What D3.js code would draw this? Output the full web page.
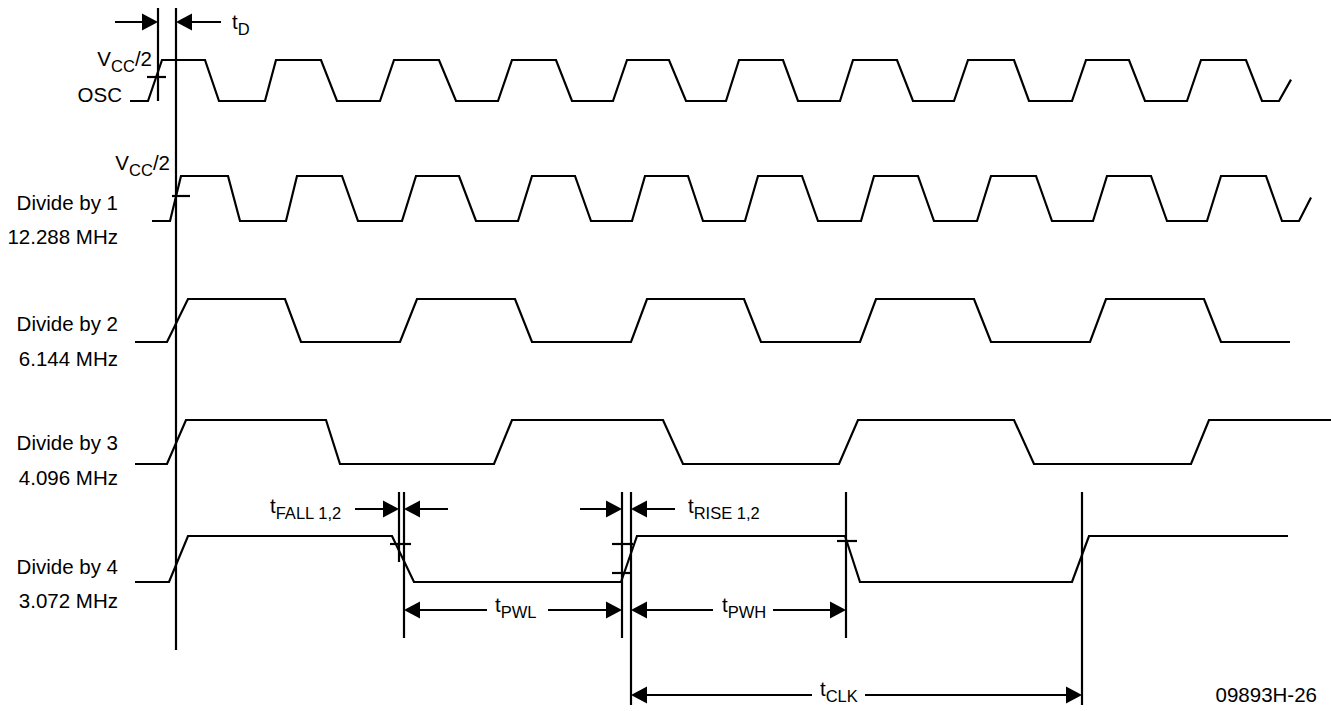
<!DOCTYPE html>
<html>
<head>
<meta charset="utf-8">
<script src="https://cdn.jsdelivr.net/npm/d3@7"></script>
<style>
  html, body { margin: 0; padding: 0; background: #fff; }
  svg { display: block; }
  text { font-family: "Liberation Sans", Arial, Helvetica, sans-serif; fill: #000; }
</style>
</head>
<body>
<script>
// ---------------- DATA (time units) ----------------
const signalNames = ["OSC", "Divide by 1", "Divide by 2", "Divide by 3", "Divide by 4"];
const signalFreqs = ["", "12.288 MHz", "6.144 MHz", "4.096 MHz", "3.072 MHz"];

// each edge = [start, end]; edges alternate rise / fall, starting from low
const oscEdges = [[148,162],[205,219],[265,276],[321,337],[380,394],[439,456],[498,512],[556,572],
  [613,627],[669,686],[726,739],[783,798],[840,853],[897,913],[954,968],[1014,1029],[1072,1086],
  [1129,1145],[1187,1201],[1246,1262],[1279,1302]];
const div1Edges = [[170,181],[228,240],[286,297],[342,358],[402,416],[459,476],[518,532],[575,591],
  [632,645],[688,703],[745,758],[802,818],[861,874],[918,934],[977,991],[1036,1052],[1093,1107],
  [1151,1167],[1207,1221],[1266,1282],[1299,1322]];
const div2Edges = [[167,188],[285,301],[400,417],[515,532],[631,647],[744,761],[860,876],[974,991],
  [1090,1106],[1204,1221]];
const div3Edges = [[167,186],[326,340],[494,512],[663,683],[839,858],[1014,1034],[1191,1209]];
const div4Edges = [[169,188],[392,414],[621,637],[845,860],[1072,1089]];

const signalStart = [130, 152, 135, 135, 135];
const signalEnd   = [1291, 1311, 1290, 1331, 1288];
const signalEdges = [oscEdges, div1Edges, div2Edges, div3Edges, div4Edges];

// timing reference markers (times)
const markerTD    = [158, 176];
const markerFall  = [399, 404];
const markerRise  = [622, 631];
const markerPWH   = 846;
const markerCLK   = 1082;

// ---------------- LAYOUT ----------------
const W = 1331, H = 711;
const svg = d3.select("body").append("svg").attr("width", W).attr("height", H);

const x = d3.scaleLinear().domain([0, 1331]).range([0, 1331]);
// per-row [lowY, highY]
const rowLevels = [[101, 60], [221, 176], [342, 299], [464, 420], [582, 536]];
const yScales = rowLevels.map(r => d3.scaleLinear().domain([0, 1]).range(r));

const SW = 2.2;

function wavePoints(start, end, edges) {
  const pts = [[start, 0]];
  let lvl = 0;
  for (const [a, b] of edges) {
    if (a >= end) break;
    pts.push([a, lvl]);
    const nl = 1 - lvl;
    if (b > end) {
      const f = (end - a) / (b - a);
      pts.push([end, lvl + (nl - lvl) * f]);
      return pts;
    }
    pts.push([b, nl]);
    lvl = nl;
  }
  pts.push([end, lvl]);
  return pts;
}

signalEdges.forEach((edges, i) => {
  const y = yScales[i];
  const line = d3.line().x(d => x(d[0])).y(d => y(d[1]));
  svg.append("path")
    .attr("d", line(wavePoints(signalStart[i], signalEnd[i], edges)))
    .attr("fill", "none").attr("stroke", "#000")
    .attr("stroke-width", SW).attr("stroke-linejoin", "miter");
});

// ---------- labels ----------
const FS = 20.5, SUB = 16.5;
const labelX = 118;
const nameBase = [101.5, 210, 330.5, 450, 573.5];
const freqBase = [null, 244, 366, 485, 607.5];
signalNames.forEach((n, i) => {
  svg.append("text").attr("x", i === 0 ? 122 : labelX).attr("y", nameBase[i])
    .attr("text-anchor", "end").attr("font-size", FS).text(n);
  if (signalFreqs[i]) {
    svg.append("text").attr("x", labelX).attr("y", freqBase[i])
      .attr("text-anchor", "end").attr("font-size", FS).text(signalFreqs[i]);
  }
});

function vccLabel(xr, yb) {
  const t = svg.append("text").attr("x", xr).attr("y", yb).attr("text-anchor", "end").attr("font-size", FS);
  t.append("tspan").text("V");
  t.append("tspan").attr("font-size", SUB).attr("dy", 6).text("CC");
  t.append("tspan").attr("dy", -6).text("/2");
}
vccLabel(152, 66);
vccLabel(170, 170);

function subLabel(xl, yb, main, sub, anchor) {
  const t = svg.append("text").attr("x", xl).attr("y", yb).attr("font-size", FS)
    .attr("text-anchor", anchor || "start");
  t.append("tspan").text(main);
  t.append("tspan").attr("font-size", SUB).attr("dy", 5.5).text(sub);
  return t;
}

// ---------- annotation helpers ----------
function vline(t, y1, y2) {
  svg.append("line").attr("x1", x(t)).attr("x2", x(t)).attr("y1", y1).attr("y2", y2)
    .attr("stroke", "#000").attr("stroke-width", SW);
}
function hline(x1, x2, y) {
  svg.append("line").attr("x1", x1).attr("x2", x2).attr("y1", y).attr("y2", y)
    .attr("stroke", "#000").attr("stroke-width", SW);
}
function arrow(fromX, toX, y) {
  const dir = toX > fromX ? 1 : -1;
  const L = 16, hw = 8.5;
  svg.append("line").attr("x1", fromX).attr("x2", toX - dir * L * 0.5).attr("y1", y).attr("y2", y)
    .attr("stroke", "#000").attr("stroke-width", SW);
  svg.append("path")
    .attr("d", `M${toX},${y} L${toX - dir * L},${y - hw} L${toX - dir * L},${y + hw} Z`)
    .attr("fill", "#000");
}

// tD
vline(markerTD[0], 8, 101);
vline(markerTD[1], 8, 650);
arrow(115, x(markerTD[0]), 22);
arrow(221, x(markerTD[1]), 22);
subLabel(232, 29, "t", "D");
hline(147, 166, 77);
hline(172, 190, 196);

// tFALL
vline(markerFall[0], 492, 562);
vline(markerFall[1], 492, 638);
arrow(355, x(markerFall[0]), 509);
arrow(448, x(markerFall[1]), 509);
subLabel(270, 513, "t", "FALL 1,2");
hline(390, 411, 544);

// tRISE
vline(markerRise[0], 492, 638);
vline(markerRise[1], 492, 705);
arrow(580, x(markerRise[0]), 509);
arrow(675, x(markerRise[1]), 509);
subLabel(688, 513, "t", "RISE 1,2");
hline(612, 633, 544);
hline(612, 630, 573);

// tPWH marker
vline(markerPWH, 492, 638);
hline(837, 857, 541);

// tCLK marker
vline(markerCLK, 492, 705);

// tPWL
arrow(487, x(markerFall[1]), 610);
arrow(548, x(markerRise[0]), 610);
subLabel(495, 612, "t", "PWL");

// tPWH
arrow(713, x(markerRise[1]), 610);
arrow(773, x(markerPWH), 610);
subLabel(722, 612, "t", "PWH");

// tCLK
arrow(812, x(markerRise[1]), 695);
arrow(865, x(markerCLK), 695);
subLabel(820, 696, "t", "CLK");

// figure id
svg.append("text").attr("x", 1317).attr("y", 702).attr("text-anchor", "end")
  .attr("font-size", FS).text("09893H-26");
</script>
</body>
</html>
